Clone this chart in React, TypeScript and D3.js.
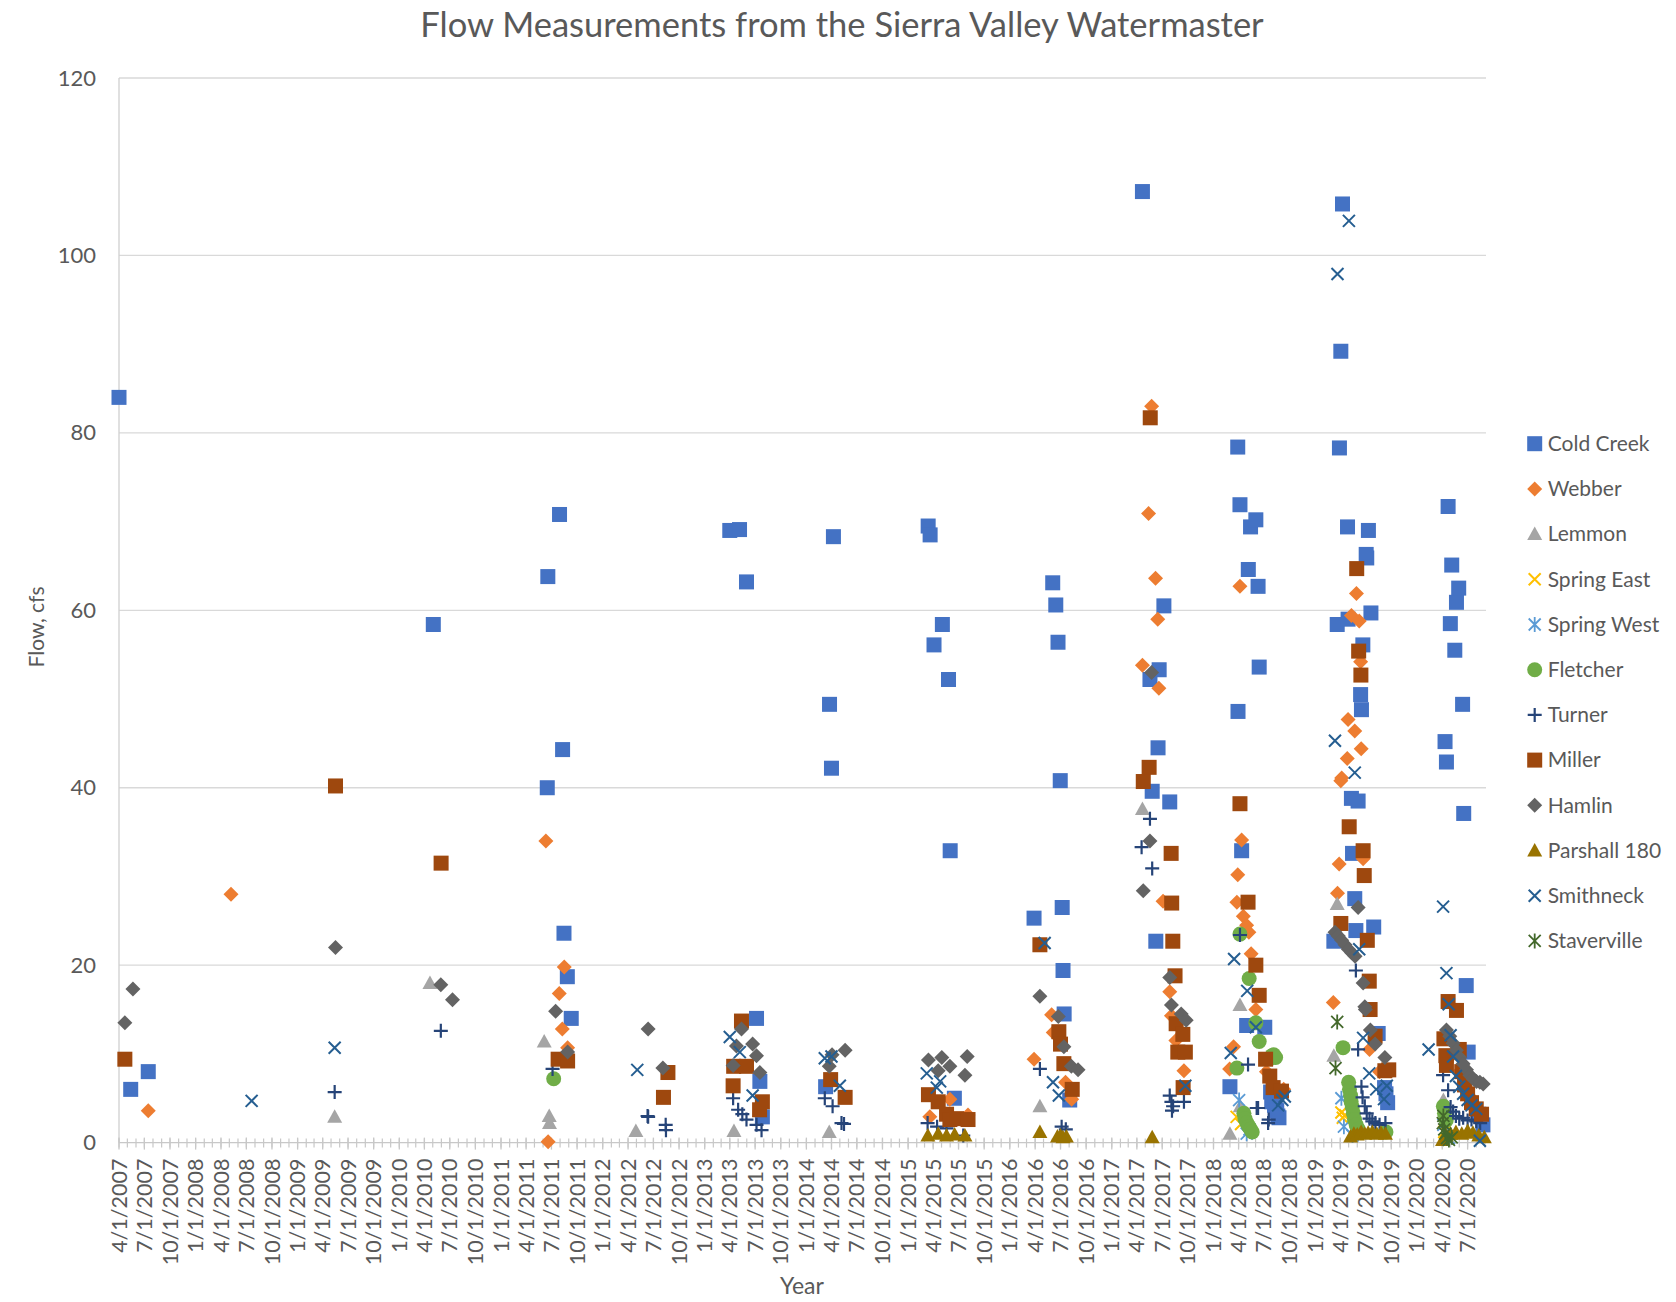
// @ts-nocheck
import * as d3 from 'd3';

// flow readings, [date, cfs]
const coldCreek = [
  ['2007-04-01', 84.0], ['2007-05-13', 6.0], ['2007-07-15', 8.0],
  ['2010-05-03', 58.4],
  ['2011-06-16', 40.0], ['2011-06-18', 63.8], ['2011-07-30', 70.8], ['2011-08-10', 44.3], ['2011-08-15', 23.6], ['2011-08-27', 18.7], ['2011-09-10', 14.0],
  ['2013-04-01', 69.0], ['2013-05-06', 69.1], ['2013-05-31', 63.2], ['2013-07-06', 14.0], ['2013-07-18', 6.9], ['2013-07-27', 2.9],
  ['2014-03-11', 6.3], ['2014-03-25', 49.4], ['2014-04-01', 42.2], ['2014-04-08', 68.3],
  ['2015-03-14', 69.5], ['2015-03-21', 68.5], ['2015-04-04', 56.1], ['2015-05-04', 58.4], ['2015-05-26', 52.2], ['2015-06-01', 32.9], ['2015-06-16', 5.0],
  ['2016-03-28', 25.3], ['2016-06-03', 63.1], ['2016-06-14', 60.6], ['2016-06-22', 56.4], ['2016-06-30', 40.8], ['2016-07-07', 26.5], ['2016-07-10', 19.4], ['2016-07-14', 14.5], ['2016-08-03', 4.8],
  ['2017-04-21', 107.2], ['2017-05-18', 52.2], ['2017-05-26', 39.6], ['2017-06-08', 22.7], ['2017-06-16', 44.5], ['2017-06-20', 53.3], ['2017-07-07', 60.5], ['2017-07-28', 38.4],
  ['2018-03-01', 6.3], ['2018-03-29', 78.4], ['2018-03-30', 48.6], ['2018-04-06', 71.9], ['2018-04-12', 32.9], ['2018-04-30', 13.2], ['2018-05-06', 64.6], ['2018-05-14', 69.4], ['2018-06-02', 70.2], ['2018-06-10', 62.7], ['2018-06-14', 53.6], ['2018-07-04', 13.0],
  ['2018-07-25', 5.7], ['2018-07-29', 4.6], ['2018-08-03', 5.0], ['2018-08-08', 4.2], ['2018-08-12', 3.7], ['2018-08-16', 3.6], ['2018-08-20', 3.0], ['2018-08-24', 2.8],
  ['2019-03-09', 22.7], ['2019-03-21', 58.4], ['2019-03-29', 78.3], ['2019-04-03', 89.2], ['2019-04-09', 105.8], ['2019-04-27', 69.4], ['2019-04-29', 59.0], ['2019-05-11', 38.8], ['2019-05-15', 32.6], ['2019-05-23', 27.5], ['2019-05-27', 23.9], ['2019-06-04', 38.5],
  ['2019-06-13', 50.5], ['2019-06-16', 48.8], ['2019-06-21', 56.1], ['2019-07-03', 66.3], ['2019-07-05', 65.9], ['2019-07-11', 69.0], ['2019-07-20', 59.7], ['2019-07-30', 24.3], ['2019-08-15', 12.3], ['2019-09-07', 6.2], ['2019-09-12', 5.5], ['2019-09-18', 4.5],
  ['2020-04-11', 45.2], ['2020-04-16', 42.9], ['2020-04-22', 71.7], ['2020-04-30', 58.5], ['2020-05-05', 65.1], ['2020-05-16', 55.5], ['2020-05-22', 60.9], ['2020-05-30', 62.5], ['2020-06-13', 49.4], ['2020-06-17', 37.1], ['2020-06-26', 17.7], ['2020-07-03', 10.2], ['2020-08-10', 3.2], ['2020-08-25', 2.0],
];

const webber = [
  ['2007-07-15', 3.6], ['2008-05-07', 28.0],
  ['2011-06-11', 34.0], ['2011-06-19', 0.1], ['2011-07-29', 16.8], ['2011-08-09', 12.8], ['2011-08-16', 19.8], ['2011-08-28', 10.7],
  ['2015-03-20', 2.9], ['2015-05-31', 4.9], ['2015-08-04', 3.1],
  ['2016-03-28', 9.4], ['2016-05-30', 14.4], ['2016-06-05', 12.4], ['2016-07-19', 6.8], ['2016-08-10', 4.9],
  ['2017-04-21', 53.8], ['2017-05-13', 70.9], ['2017-05-24', 83.0], ['2017-06-07', 63.6], ['2017-06-15', 59.0], ['2017-06-19', 51.2], ['2017-07-04', 27.2], ['2017-07-28', 17.0], ['2017-08-03', 14.3], ['2017-08-19', 11.5], ['2017-09-17', 8.1],
  ['2018-02-28', 8.3], ['2018-03-14', 10.8], ['2018-03-26', 27.1], ['2018-03-29', 30.2], ['2018-04-06', 62.7], ['2018-04-12', 34.1], ['2018-04-18', 25.5], ['2018-04-30', 24.5], ['2018-05-08', 23.7], ['2018-05-16', 21.3], ['2018-06-02', 15.0], ['2018-07-10', 8.0], ['2018-09-10', 6.0],
  ['2019-03-07', 15.8], ['2019-03-22', 28.1], ['2019-03-28', 31.4], ['2019-04-03', 40.8], ['2019-04-06', 41.1], ['2019-04-26', 43.3], ['2019-04-29', 47.7], ['2019-05-11', 59.4], ['2019-05-23', 46.4], ['2019-05-29', 61.9], ['2019-06-08', 58.8], ['2019-06-13', 54.2], ['2019-06-15', 44.4], ['2019-06-22', 32.0], ['2019-07-15', 10.5], ['2019-08-20', 8.0],
  ['2020-04-20', 12.0], ['2020-05-10', 10.0], ['2020-06-01', 8.0], ['2020-06-20', 6.5], ['2020-07-15', 5.0],
];

const lemmon = [
  ['2009-05-14', 2.9], ['2010-04-21', 18.0], ['2011-06-05', 11.4], ['2011-06-23', 3.0], ['2011-06-24', 2.2],
  ['2012-04-29', 1.3], ['2013-04-16', 1.3], ['2014-03-24', 1.2], ['2016-04-18', 4.1], ['2017-04-21', 37.6],
  ['2018-03-01', 1.0], ['2018-04-06', 15.5], ['2018-04-07', 4.1], ['2019-03-09', 9.8], ['2019-03-21', 26.9], ['2020-04-05', 4.8],
];

const springEast = [['2018-03-25', 2.9], ['2018-04-10', 2.1], ['2019-04-05', 3.4], ['2019-04-10', 2.8], ['2019-04-19', 3.1], ['2020-04-08', 1.2]];

const springWest = [['2018-04-03', 4.8], ['2018-04-30', 1.0], ['2018-05-10', 1.5], ['2019-04-05', 5.0], ['2019-04-14', 1.8], ['2019-05-15', 0.8], ['2020-04-05', 2.0], ['2020-04-25', 0.5]];

const fletcher = [
  ['2011-07-09', 7.2],
  ['2018-03-26', 8.4], ['2018-04-06', 23.5], ['2018-04-20', 3.3], ['2018-04-24', 2.7], ['2018-05-01', 2.2], ['2018-05-08', 1.8], ['2018-05-09', 18.5], ['2018-05-14', 1.5], ['2018-05-20', 1.2], ['2018-06-02', 13.5], ['2018-06-14', 11.4], ['2018-07-25', 9.5], ['2018-07-30', 9.8], ['2018-08-05', 9.9], ['2018-08-12', 9.6],
  ['2019-04-11', 10.7], ['2019-05-01', 6.8], ['2019-05-04', 6.0], ['2019-05-08', 5.3], ['2019-05-10', 4.6], ['2019-05-14', 4.0], ['2019-05-18', 3.3], ['2019-05-22', 2.6], ['2019-05-28', 2.0], ['2019-06-05', 1.5], ['2019-09-12', 1.2],
  ['2020-04-05', 4.1], ['2020-04-09', 3.3], ['2020-04-15', 2.5],
];

const turner = [
  ['2009-05-14', 5.7], ['2010-05-30', 12.6], ['2011-07-05', 8.3],
  ['2012-06-10', 3.0], ['2012-06-12', 2.9], ['2012-08-14', 2.0], ['2012-08-15', 1.4],
  ['2013-04-13', 5.0], ['2013-05-01', 3.7], ['2013-05-16', 3.2], ['2013-05-31', 2.6], ['2013-07-06', 2.0], ['2013-07-24', 1.4],
  ['2014-03-08', 5.0], ['2014-04-05', 4.1], ['2014-05-07', 2.2], ['2014-05-16', 2.1],
  ['2015-03-12', 2.2], ['2015-04-15', 1.8], ['2015-05-19', 1.6], ['2015-07-18', 0.8],
  ['2016-04-18', 8.3], ['2016-07-05', 1.8], ['2016-07-20', 1.5],
  ['2017-04-18', 33.3], ['2017-05-18', 36.5], ['2017-05-26', 30.9], ['2017-07-28', 5.3], ['2017-08-03', 4.6], ['2017-08-05', 3.6], ['2017-08-09', 4.1], ['2017-09-17', 4.6],
  ['2018-04-06', 23.4], ['2018-05-05', 8.8], ['2018-06-05', 3.9], ['2018-06-10', 3.9], ['2018-07-16', 2.2], ['2018-07-18', 2.6],
  ['2019-05-27', 19.4], ['2019-06-04', 10.5], ['2019-06-16', 6.3], ['2019-06-20', 5.1], ['2019-06-28', 4.1], ['2019-07-05', 3.3], ['2019-07-15', 2.7], ['2019-07-25', 2.4], ['2019-08-05', 2.2], ['2019-08-20', 2.0], ['2019-09-10', 2.2],
  ['2020-04-04', 7.6], ['2020-04-22', 5.9], ['2020-05-01', 4.0], ['2020-05-10', 3.5], ['2020-05-20', 3.0], ['2020-06-01', 2.7], ['2020-06-15', 2.8], ['2020-07-01', 2.5], ['2020-07-15', 2.6], ['2020-08-01', 2.4], ['2020-08-15', 2.2],
];

const miller = [
  ['2007-04-22', 9.4], ['2009-05-17', 40.2], ['2010-05-31', 31.5],
  ['2011-07-25', 9.4], ['2011-08-28', 9.2],
  ['2012-08-06', 5.1], ['2012-08-22', 7.9],
  ['2013-04-13', 6.4], ['2013-04-15', 8.6], ['2013-05-13', 13.7], ['2013-05-31', 8.6], ['2013-07-17', 3.7], ['2013-07-27', 4.6],
  ['2014-03-29', 7.1], ['2014-05-20', 5.1],
  ['2015-03-15', 5.4], ['2015-04-19', 4.6], ['2015-05-19', 3.2], ['2015-05-31', 2.6], ['2015-06-24', 2.7], ['2015-08-04', 2.6],
  ['2016-04-18', 22.3], ['2016-06-25', 12.5], ['2016-07-01', 11.1], ['2016-07-13', 8.9], ['2016-08-12', 6.0],
  ['2017-04-24', 40.7], ['2017-05-15', 42.3], ['2017-05-19', 81.7], ['2017-08-02', 32.6], ['2017-08-04', 27.0], ['2017-08-08', 22.7], ['2017-08-16', 18.8], ['2017-08-20', 13.4], ['2017-08-26', 10.2], ['2017-09-13', 12.2], ['2017-09-14', 6.2], ['2017-09-22', 10.2],
  ['2018-04-06', 38.2], ['2018-05-05', 27.1], ['2018-06-02', 20.0], ['2018-06-14', 16.6], ['2018-07-07', 9.4], ['2018-07-22', 7.5], ['2018-08-03', 6.2], ['2018-09-02', 5.8],
  ['2019-04-03', 24.7], ['2019-05-03', 35.6], ['2019-05-30', 64.7], ['2019-06-06', 55.4], ['2019-06-14', 52.7], ['2019-06-22', 32.9], ['2019-06-26', 30.1], ['2019-07-07', 22.8], ['2019-07-14', 18.2], ['2019-07-17', 15.0], ['2019-08-04', 12.0], ['2019-09-08', 8.1], ['2019-09-22', 8.2],
  ['2020-04-07', 11.7], ['2020-04-14', 9.8], ['2020-04-16', 8.7], ['2020-04-22', 15.9], ['2020-05-22', 14.9], ['2020-06-01', 10.5], ['2020-06-10', 8.0], ['2020-06-20', 6.5], ['2020-07-01', 5.5], ['2020-07-15', 4.5], ['2020-08-01', 3.8], ['2020-08-20', 3.2],
];

const hamlin = [
  ['2007-04-22', 13.5], ['2007-05-21', 17.3], ['2009-05-17', 22.0], ['2010-05-30', 17.8], ['2010-07-11', 16.1],
  ['2011-07-16', 14.8], ['2011-08-28', 10.2],
  ['2012-06-12', 12.8], ['2012-08-04', 8.4],
  ['2013-04-13', 8.7], ['2013-04-25', 10.9], ['2013-05-13', 12.8], ['2013-06-22', 11.1], ['2013-07-06', 9.8], ['2013-07-18', 7.9],
  ['2014-03-24', 8.6], ['2014-04-03', 9.9], ['2014-05-20', 10.4],
  ['2015-03-15', 9.3], ['2015-04-19', 8.1], ['2015-05-02', 9.6], ['2015-05-31', 8.6], ['2015-07-24', 7.6], ['2015-08-01', 9.7],
  ['2016-04-18', 16.5], ['2016-06-23', 14.2], ['2016-07-13', 10.8], ['2016-08-09', 8.6], ['2016-09-02', 8.2],
  ['2017-04-24', 28.4], ['2017-05-18', 34.0], ['2017-05-24', 53.0], ['2017-07-28', 18.6], ['2017-08-03', 15.5], ['2017-09-07', 14.5], ['2017-09-25', 13.8],
  ['2019-03-13', 23.7], ['2019-03-25', 23.3], ['2019-04-06', 22.8], ['2019-04-18', 22.3], ['2019-04-30', 21.8], ['2019-05-12', 21.4], ['2019-05-24', 21.0], ['2019-06-04', 26.5],
  ['2019-06-22', 18.0], ['2019-06-28', 15.3], ['2019-06-30', 15.0], ['2019-07-18', 12.7], ['2019-08-04', 11.1], ['2019-09-08', 9.6],
  ['2020-04-16', 12.7], ['2020-04-28', 12.0], ['2020-05-10', 11.2], ['2020-05-22', 10.4], ['2020-06-03', 9.6], ['2020-06-15', 8.9], ['2020-06-27', 8.2], ['2020-07-09', 7.6], ['2020-07-21', 7.2], ['2020-08-02', 6.9], ['2020-08-14', 6.8], ['2020-08-26', 6.6],
];

const parshall = [
  ['2015-03-13', 0.8], ['2015-04-19', 1.0], ['2015-05-19', 0.8], ['2015-06-17', 0.9], ['2015-07-24', 0.8],
  ['2016-04-18', 1.2], ['2016-06-20', 0.7], ['2016-07-01', 0.8], ['2016-07-10', 0.6], ['2016-07-22', 0.7],
  ['2017-05-26', 0.6],
  ['2019-05-08', 0.7], ['2019-05-20', 1.0], ['2019-06-01', 0.9], ['2019-06-15', 1.2], ['2019-06-28', 1.0], ['2019-07-10', 1.1], ['2019-07-25', 1.2], ['2019-08-10', 1.0], ['2019-08-25', 1.1], ['2019-09-10', 1.0],
  ['2020-04-02', 0.3], ['2020-04-15', 0.8], ['2020-05-01', 1.0], ['2020-05-20', 1.2], ['2020-06-10', 1.0], ['2020-07-01', 1.3], ['2020-07-20', 1.1], ['2020-08-10', 0.8], ['2020-08-30', 0.6],
];

const smithneck = [
  ['2008-07-20', 4.7], ['2009-05-14', 10.7], ['2012-05-04', 8.2],
  ['2013-04-01', 11.9], ['2013-05-07', 10.2], ['2013-06-22', 5.3],
  ['2014-03-08', 9.5], ['2014-04-01', 9.7], ['2014-05-01', 6.4],
  ['2015-03-09', 7.8], ['2015-04-14', 6.2], ['2015-04-26', 6.9],
  ['2016-05-05', 22.5], ['2016-06-04', 6.8], ['2016-06-25', 5.3],
  ['2017-09-22', 6.4],
  ['2018-03-04', 10.1], ['2018-03-16', 20.7], ['2018-05-02', 17.1], ['2018-06-02', 13.0], ['2018-08-21', 4.2], ['2018-09-05', 4.8], ['2018-09-14', 5.2],
  ['2019-03-13', 45.3], ['2019-03-22', 97.9], ['2019-05-02', 103.9], ['2019-05-23', 41.7], ['2019-06-08', 21.8], ['2019-06-22', 11.8], ['2019-07-14', 7.8], ['2019-08-08', 6.0], ['2019-09-05', 4.9], ['2019-09-15', 6.4],
  ['2020-02-12', 10.5], ['2020-04-04', 26.6], ['2020-04-16', 19.1], ['2020-04-24', 15.6], ['2020-05-01', 12.1], ['2020-05-10', 9.7], ['2020-05-20', 7.5], ['2020-06-01', 6.3], ['2020-06-15', 5.5], ['2020-07-01', 4.8], ['2020-07-15', 4.2], ['2020-08-01', 3.8], ['2020-08-14', 0.2],
];

const staverville = [['2019-03-15', 8.4], ['2019-03-21', 13.6], ['2020-04-03', 2.2], ['2020-04-05', 3.0], ['2020-04-08', 1.5], ['2020-04-12', 1.0], ['2020-04-18', 0.5], ['2020-04-25', 0.3], ['2020-05-05', 0.6]];

const yTicks = [0, 20, 40, 60, 80, 100, 120];
const xDomain = ['2007-04-01', '2020-09-05'];

const series = [
  { name: 'Cold Creek', color: '#4472C4', shape: 'square', data: coldCreek },
  { name: 'Webber', color: '#ED7D31', shape: 'diamond', data: webber },
  { name: 'Lemmon', color: '#A5A5A5', shape: 'triangle', data: lemmon },
  { name: 'Spring East', color: '#FFC000', shape: 'x', data: springEast },
  { name: 'Spring West', color: '#5B9BD5', shape: 'star', data: springWest },
  { name: 'Fletcher', color: '#70AD47', shape: 'circle', data: fletcher },
  { name: 'Turner', color: '#264478', shape: 'plus', data: turner },
  { name: 'Miller', color: '#9E480E', shape: 'square', data: miller },
  { name: 'Hamlin', color: '#636363', shape: 'diamond', data: hamlin },
  { name: 'Parshall 180', color: '#997300', shape: 'triangle', data: parshall },
  { name: 'Smithneck', color: '#255E91', shape: 'x', data: smithneck },
  { name: 'Staverville', color: '#43682B', shape: 'star', data: staverville },
];

const FONT = 'Lato, "Open Sans", sans-serif';
const TEXT = '#595959';

const Marker = ({ shape, color, x, y }) => {
  if (shape === 'square') return <rect x={x - 7.5} y={y - 7.5} width={15} height={15} fill={color} />;
  if (shape === 'diamond') return <path d={`M${x},${y - 7.5}L${x + 7.5},${y}L${x},${y + 7.5}L${x - 7.5},${y}Z`} fill={color} />;
  if (shape === 'triangle') return <path d={`M${x},${y - 7.5}L${x + 7.5},${y + 6}L${x - 7.5},${y + 6}Z`} fill={color} />;
  if (shape === 'circle') return <circle cx={x} cy={y} r={7.5} fill={color} />;
  if (shape === 'plus')
    return <path d={`M${x - 7},${y}H${x + 7}M${x},${y - 7}V${y + 7}`} stroke={color} strokeWidth={2.2} fill="none" />;
  if (shape === 'x')
    return <path d={`M${x - 6},${y - 6}L${x + 6},${y + 6}M${x - 6},${y + 6}L${x + 6},${y - 6}`} stroke={color} strokeWidth={2} fill="none" />;
  // asterisk
  return (
    <path
      d={`M${x - 6},${y - 6}L${x + 6},${y + 6}M${x - 6},${y + 6}L${x + 6},${y - 6}M${x},${y - 7.5}V${y + 7.5}`}
      stroke={color}
      strokeWidth={1.8}
      fill="none"
    />
  );
};

const App = () => {
  const width = 1676;
  const height = 1302;
  const plot = { left: 119, right: 1486, top: 78, bottom: 1142.6 };

  const parse = d3.timeParse('%Y-%m-%d');
  const fmt = d3.timeFormat('%-m/%-d/%Y');

  const xScale = d3.scaleTime()
    .domain(xDomain.map(parse))
    .range([plot.left, plot.right]);

  const yScale = d3.scaleLinear()
    .domain([0, 120])
    .range([plot.bottom, plot.top]);

  const start = parse(xDomain[0]);
  const end = parse(xDomain[1]);
  const majorTicks = d3.timeMonth.range(start, end, 3).filter((d) => d.getMonth() % 3 === 0);
  const minorTicks = d3.timeMonth.range(start, end);

  return (
    <svg width={width} height={height} style={{ position: 'absolute', left: 0, top: 0, background: '#fff' }} fontFamily={FONT}>
      <rect width={width} height={height} fill="#fff" />
      <text x={842} y={37} textAnchor="middle" fontSize={34.5} fill={TEXT}>
        Flow Measurements from the Sierra Valley Watermaster
      </text>

      {/* gridlines + y labels */}
      {yTicks.map((t) => (
        <g key={t} transform={`translate(0,${yScale(t)})`}>
          {t > 0 && <line x1={plot.left} x2={plot.right} stroke="#d9d9d9" strokeWidth={1.3} />}
          <text x={96} y={7.5} textAnchor="end" fontSize={22} fill={TEXT}>{t}</text>
        </g>
      ))}
      <line x1={plot.left} x2={plot.left} y1={plot.top} y2={plot.bottom} stroke="#d0d0d0" strokeWidth={1.3} />

      {/* x axis */}
      <line x1={plot.left} x2={plot.right} y1={plot.bottom} y2={plot.bottom} stroke="#c8c8c8" strokeWidth={1.3} />
      {minorTicks.map((d) => (
        <line key={'m' + +d} x1={xScale(d)} x2={xScale(d)} y1={plot.bottom - 4} y2={plot.bottom + 5} stroke="#c8c8c8" strokeWidth={1.2} />
      ))}
      {majorTicks.map((d) => (
        <g key={+d} transform={`translate(${xScale(d)},${plot.bottom})`}>
          <line y1={-5} y2={7} stroke="#c8c8c8" strokeWidth={1.3} />
          <text transform="translate(0,16) rotate(-90)" textAnchor="end" dy="0.35em" fontSize={21.5} fill={TEXT}>
            {fmt(d)}
          </text>
        </g>
      ))}

      <text x={802} y={1294} textAnchor="middle" fontSize={23} fill={TEXT}>Year</text>
      <text transform="translate(44,627) rotate(-90)" textAnchor="middle" fontSize={21} fill={TEXT}>Flow, cfs</text>

      {/* points */}
      {series.map((s) => (
        <g key={s.name}>
          {s.data.map(([d, v], i) => (
            <Marker key={i} shape={s.shape} color={s.color} x={xScale(parse(d))} y={yScale(v)} />
          ))}
        </g>
      ))}

      {/* legend */}
      {series.map((s, i) => (
        <g key={s.name} transform={`translate(1534.7,${443.7 + i * 45.2})`}>
          <Marker shape={s.shape} color={s.color} x={0} y={0} />
          <text x={13} dy="0.35em" fontSize={21} fill={TEXT}>{s.name}</text>
        </g>
      ))}
    </svg>
  );
};

export default App;
